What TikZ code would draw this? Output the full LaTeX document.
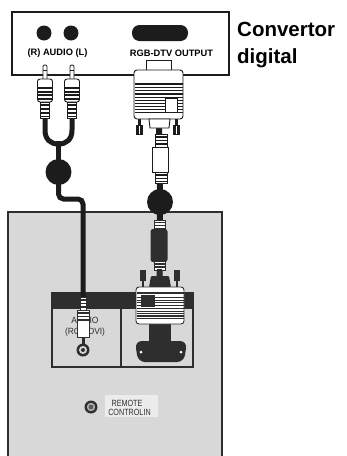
\documentclass[tikz,border=0pt]{standalone}
\usepackage{fontspec}
\setmainfont{Liberation Sans}
\definecolor{ink}{HTML}{1C1C1C}
\definecolor{panelfill}{HTML}{D8D8D8}
\definecolor{panelink}{HTML}{2E2E2E}
\definecolor{labelbg}{HTML}{ECECEC}

\begin{document}
\begin{tikzpicture}[x=1pt,y=-1pt,
  frame/.style={draw=ink, line width=2.4pt},
  shell/.style={draw=ink, fill=white, line width=0.9pt},
  pshell/.style={draw=panelink, fill=white, line width=0.9pt},
  cable/.style={draw=ink, line width=5pt},
  tie/.style={fill=ink},
  toplbl/.style={inner sep=0pt, font=\bfseries\fontsize{9.3}{10}\selectfont},
  title/.style={anchor=base west, inner sep=0pt, font=\bfseries\fontsize{20.5}{22}\selectfont},
  panellbl/.style={inner sep=0pt, text=panelink, font=\fontsize{9}{10}\selectfont}]

\useasboundingbox (0,0) rectangle (347,456);
\fill[white] (0,0) rectangle (347,456);

% ---------------- back panel of the set ----------------
\fill[panelfill] (8,212) rectangle (222,456);
\draw[panelink, line width=1.8pt] (8,458) -- (8,212) -- (222,212) -- (222,458);

% jack plate: dark header and two bays
\fill[panelink] (52,293) rectangle (193,309);
\draw[panelink, line width=1.3pt] (52,293) rectangle (193,367);
\draw[panelink, line width=1.3pt] (121,309) -- (121,367);

% audio input labels (partly hidden by the plug)
\node[panellbl] (audlbl) at (85,320) {\scalebox{0.95}[1]{AUDIO}};
\node[panellbl] (audsub) at (85,332) {\scalebox{0.93}[1]{(RGB/DVI)}};

% audio input jack
\fill[panelink] (83,350) circle (6.5pt);
\fill[panelfill] (83,350) circle (4pt);
\fill[panelink] (83,350) circle (2pt);

% remote control input
\fill[labelbg] (105,395) rectangle (158,417);
\fill[panelink] (91,407) circle (6.5pt);
\fill[gray!60] (91,407) circle (4.2pt);
\fill[panelink!80] (91,407) circle (2.4pt);
\node[panellbl] (rem1) at (127,403) {\scalebox{0.8}[1]{REMOTE}};
\node[panellbl] (rem2) at (129.5,412) {\scalebox{0.8}[1]{CONTROLIN}};

% ---------------- converter box ----------------
\draw[frame, fill=white] (12,12) rectangle (229,75);
\fill[ink] (44,33) circle (7.5pt);
\fill[ink] (71,33) circle (7.5pt);
\fill[ink, rounded corners=7.5pt] (132,25) rectangle (188,41);
\node[toplbl] (audtop) at (57.5,53) {(R) AUDIO (L)};
\node[toplbl] (rgbtop) at (171.5,53) {RGB-DTV OUTPUT};

\node[title] (conv) at (237,36) {Convertor};
\node[title] (digi) at (237,63) {digital};

% ---------------- audio cable ----------------
\coordinate (rOut) at (45,118);
\coordinate (lOut) at (72,118);
\coordinate (yJoin) at (58.5,144);
\coordinate (tieA) at (58.5,172);
\coordinate (pIn) at (83,300);

\draw[cable] (rOut) -- (45,130) .. controls (45,139) and (50,144) .. (yJoin);
\draw[cable] (lOut) -- (72,130) .. controls (72,139) and (67,144) .. (yJoin);
\draw[cable] (58.5,141) -- (tieA);
\draw[cable, rounded corners=5pt] (tieA) -- (58.5,199) -- (83,199) -- (pIn);
\fill[tie] (tieA) circle (13pt);

% RCA plugs at the converter
\foreach \cx in {45,72}{
  \draw[shell, rounded corners=1.2pt] (\cx-2,80) -- (\cx-2,65) -- (\cx+2,65) -- (\cx+2,80);
  \draw[ink, line width=0.8pt] (\cx-2,70) -- (\cx+2,70);
  \draw[shell, rounded corners=2.5pt] (\cx-7.5,102) -- (\cx-7.5,79) -- (\cx+7.5,79) -- (\cx+7.5,102) -- cycle;
  \foreach \yy in {87,90.5,94,97.5}
    \fill[ink] (\cx-7.5,\yy) rectangle (\cx+7.5,\yy+2);
  \draw[shell] (\cx-4.5,102) rectangle (\cx+4.5,118);
  \foreach \yy in {104,108,112,115.5}
    \fill[ink] (\cx-4.5,\yy) rectangle (\cx+4.5,\yy+1.8);
}

% RCA plug at the panel
\draw[pshell] (80,297) rectangle (86,310);
\foreach \yy in {299,302.5,306}
  \fill[panelink] (80,\yy) rectangle (86,\yy+1.6);
\fill[panelink] (81.5,337) rectangle (84.5,344);
\draw[pshell] (77.5,310) rectangle (89.5,337);
\foreach \yy in {312,315.5,319}
  \fill[panelink] (77.5,\yy) rectangle (89.5,\yy+1.8);

% ---------------- RGB cable ----------------
\coordinate (vTop) at (159,126);
\coordinate (tieB) at (160,202);
\coordinate (vBot) at (159.5,277);
\draw[ink, line width=6pt] (vTop) -- (tieB) -- (vBot);

% cable sections between the two plugs
\draw[shell] (155,134) rectangle (167,147);
\foreach \yy in {136,139.5,143}
  \fill[ink] (155,\yy) rectangle (167,\yy+1.6);
\draw[shell] (152,147) rectangle (168,172);
\draw[shell] (155,172) rectangle (167,183);
\foreach \yy in {174,177.5,180.5}
  \fill[ink] (155,\yy) rectangle (167,\yy+1.6);
\fill[tie] (tieB) circle (13pt);
\draw[pshell] (154,220) rectangle (165,230);
\foreach \yy in {221.5,224.5,227.5}
  \fill[panelink] (154,\yy) rectangle (165,\yy+1.4);
\fill[panelink, rounded corners=2.5pt] (150.5,229) rectangle (167.5,262);
\draw[pshell] (154,261) rectangle (165,270);
\foreach \yy in {263,266}
  \fill[panelink] (154,\yy) rectangle (165,\yy+1.5);

% D-sub plug at the converter
\draw[shell] (146,60) rectangle (171,71);
\draw[shell, rounded corners=3pt] (134,70) rectangle (183,119);
\foreach \yy/\w in {84/1.7,87.5/1,90.5/1.7,94/1.7,97.5/1,100.5/1,103.5/1,106.5/1,109.5/1,112.5/1.7}
  \draw[ink, line width=\w pt] (134.5,\yy) -- (182.5,\yy);
\draw[shell] (165,98) rectangle (177,112);
\foreach \sx in {136,173}{
  \fill[ink] (\sx+2,119) rectangle (\sx+5,125);
  \fill[ink] (\sx,125) rectangle (\sx+7,135);
  \draw[white, line width=0.6pt] (\sx+3.5,126) -- (\sx+3.5,134);
}
\draw[shell] (149,119) -- (170,119) -- (169,128) -- (150,128) -- cycle;

% D-sub plug and socket at the panel
\fill[panelink] (149,322) rectangle (171,343);
\fill[panelink, rounded corners=7pt] (135,341) -- (187,341) -- (184,362) -- (138,362) -- cycle;
\fill[white] (141,352) circle (1.5pt);
\fill[white] (181,352) circle (1.5pt);
\foreach \sx in {140,174}{
  \fill[panelink] (\sx,270) rectangle (\sx+6,281);
  \fill[panelink] (\sx+2,281) rectangle (\sx+4,287);
}
\fill[panelink] (157,269) rectangle (162,277);
\fill[panelink, rounded corners=1pt] (149,287) -- (151,276) -- (169,276) -- (171,287) -- cycle;
\draw[pshell, rounded corners=3pt] (136,287) rectangle (184,324);
\foreach \yy/\w in {293/1.7,297/1,300/1,302.5/1,305/1,308/1,311/1,313.5/1,316/1.7,318.5/1}
  \draw[panelink, line width=\w pt] (136.5,\yy) -- (183.5,\yy);
\fill[panelink] (141,295) rectangle (155,307);

\end{tikzpicture}
\end{document}
